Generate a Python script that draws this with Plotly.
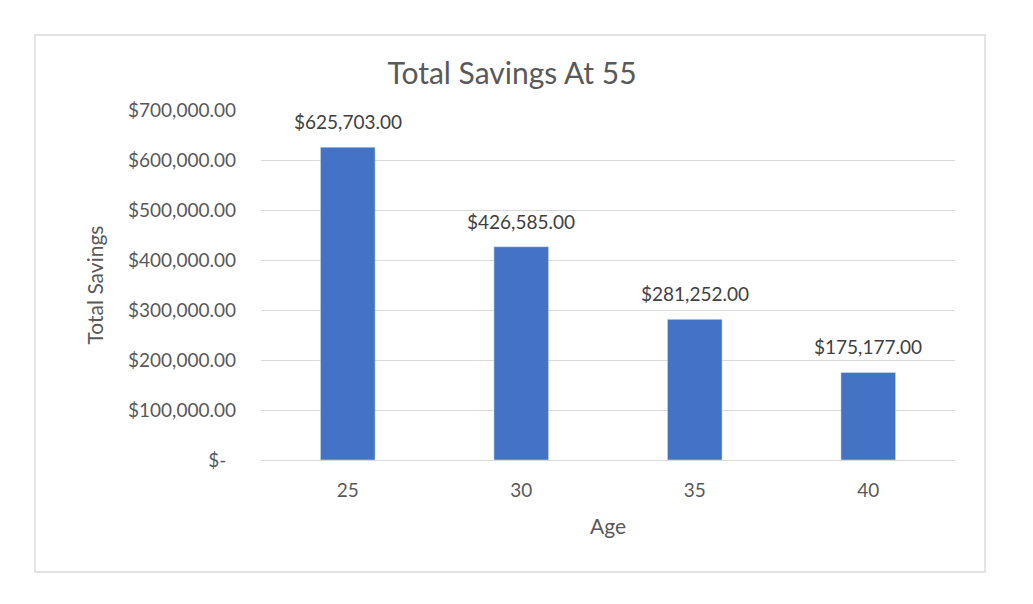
import plotly.graph_objects as go

ages = ["25", "30", "35", "40"]
savings = [625703, 426585, 281252, 175177]
label_text = ["$625,703.00", "$426,585.00", "$281,252.00", "$175,177.00"]
tick_vals = [0, 100000, 200000, 300000, 400000, 500000, 600000, 700000]
tick_text = ["$-  ", "$100,000.00", "$200,000.00", "$300,000.00", "$400,000.00",
             "$500,000.00", "$600,000.00", "$700,000.00"]

OFF = 8  # default page body margin
W, H = 1033 - OFF, 604 - OFF
L, R, T, B = 261, 955, 110, 460

fig = go.Figure()
fig.add_trace(go.Bar(
    x=ages, y=savings, marker_color="#4472C4",
    width=0.315, hoverinfo="x+y",
))

# category axis: annotation x given as category index
for i, (v, t) in enumerate(zip(savings, label_text)):
    fig.add_annotation(x=i, y=v, text=t, showarrow=False, yanchor="bottom",
                       yshift=12,
                       font=dict(size=19, color="#404040",
                                 family="Lato, Open Sans, sans-serif"))

def px(x):
    return (x - L) / (R - L)

def py(y):
    return (B - y) / (B - T)

fig.update_layout(
    width=W, height=H,
    margin=dict(l=L - OFF, r=1033 - R, t=T - OFF, b=604 - B, autoexpand=False),
    paper_bgcolor="white", plot_bgcolor="white",
    font=dict(family="Lato, Open Sans, sans-serif", color="#595959", size=19),
    title=dict(text="Total Savings At 55", x=(512 - OFF) / W, xanchor="center",
               y=1 - (73 - OFF) / H, yanchor="middle",
               font=dict(size=30, color="#595959")),
    showlegend=False,
    bargap=0.68,
    xaxis=dict(type="category", categoryorder="array", categoryarray=ages,
               title=dict(text="Age", font=dict(size=21), standoff=19),
               showgrid=False, showline=True, linecolor="#d9d9d9", linewidth=1.3,
               ticks="", tickfont=dict(size=19), ticklabelstandoff=13),
    yaxis=dict(title=dict(text="Total Savings", font=dict(size=21), standoff=18),
               range=[0, 700000], tickvals=tick_vals, ticktext=tick_text,
               showgrid=True, gridcolor="#d9d9d9", gridwidth=1.3,
               zeroline=False, ticks="", tickfont=dict(size=19), ticklabelstandoff=24),
    shapes=[dict(type="rect", xref="paper", yref="paper",
                 x0=px(35), x1=px(985), y0=py(572), y1=py(35),
                 line=dict(color="#d9d9d9", width=1.3), fillcolor="rgba(0,0,0,0)",
                 layer="below")],
)

fig.write_html("out.html")
